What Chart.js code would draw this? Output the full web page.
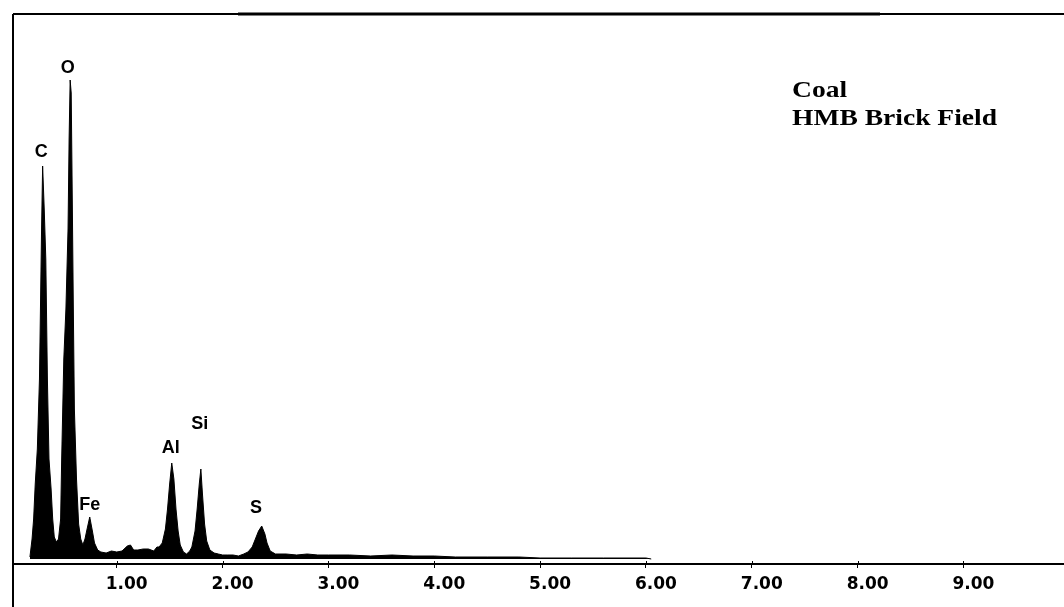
<!DOCTYPE html>
<html>
<head>
<meta charset="utf-8">
<script src="https://cdn.jsdelivr.net/npm/chart.js@4/dist/chart.umd.min.js"></script>
<style>
  html, body { margin: 0; padding: 0; background: #fff; }
  #wrap { width: 1064px; height: 607px; position: relative; }
</style>
</head>
<body>
<div id="wrap"><canvas id="spectrum"></canvas></div>
<script>
// energy (keV) and counts
const energies = [
  0.18, 0.20, 0.215, 0.23, 0.25, 0.27, 0.29, 0.30, 0.315, 0.33, 0.345, 0.36, 0.38, 0.395, 0.41,
  0.43, 0.45, 0.47, 0.48, 0.50, 0.52, 0.54, 0.55, 0.56, 0.57, 0.58, 0.59, 0.60, 0.62, 0.64, 0.66,
  0.68, 0.70, 0.72, 0.745, 0.77, 0.79, 0.82, 0.85, 0.90, 0.95, 1.00, 1.05, 1.10, 1.13, 1.16,
  1.20, 1.25, 1.30, 1.35, 1.38, 1.40, 1.43, 1.46, 1.48, 1.50, 1.52, 1.54, 1.56, 1.58, 1.60,
  1.63, 1.66, 1.69, 1.71, 1.74, 1.76, 1.78, 1.795, 1.81, 1.83, 1.85, 1.88, 1.92, 1.96, 2.00,
  2.05, 2.10, 2.15, 2.20, 2.24, 2.28, 2.31, 2.34, 2.37, 2.40, 2.42, 2.45, 2.50, 2.60, 2.70,
  2.80, 2.90, 3.00, 3.20, 3.40, 3.60, 3.80, 4.00, 4.20, 4.50, 4.80, 5.00, 5.30, 5.60, 6.00, 6.05
];
const counts = [
  2, 20, 40, 75, 110, 180, 330, 393, 350, 300, 180, 100, 70, 40, 22,
  17, 20, 40, 100, 200, 250, 330, 420, 479, 466, 360, 250, 150, 80, 35, 20,
  14, 20, 30, 42, 28, 16, 9, 7, 6, 8, 7, 8, 13, 14, 9,
  9, 10, 10, 8, 12, 12, 16, 30, 50, 75, 96, 80, 50, 28, 14,
  7, 5, 8, 12, 28, 50, 75, 90, 65, 35, 18, 9, 6, 5, 4,
  4, 4, 3, 5, 7, 12, 20, 28, 33, 25, 16, 8, 5, 5, 4,
  5, 4, 4, 4, 3, 4, 3, 3, 2, 2, 2, 1, 1, 1, 1, 0
];

const xTicks = [1, 2, 3, 4, 5, 6, 7, 8, 9];

// peak labels, anchored in data units (energy, count level)
const peakNames = ["C", "O", "Fe", "Al", "Si", "S"];
const peakEnergies = [0.286, 0.537, 0.745, 1.51, 1.785, 2.315];
const peakLabelLevels = [407, 491, 54, 111, 135, 51];

const sampleLines = ["Coal", "HMB Brick Field"];

const decor = {
  id: "decor",
  afterDraw(chart) {
    const { ctx, chartArea } = chart;
    const x = chart.scales.x;
    const y = chart.scales.y;
    ctx.save();
    ctx.fillStyle = "#000";
    ctx.strokeStyle = "#000";

    // frame: top edge and left edge (left runs past the axis to the bottom)
    ctx.lineWidth = 2;
    ctx.beginPath();
    ctx.moveTo(chartArea.left, chartArea.top);
    ctx.lineTo(chartArea.right, chartArea.top);
    ctx.moveTo(chartArea.left, chartArea.top);
    ctx.lineTo(chartArea.left, chart.height);
    ctx.stroke();
    ctx.lineWidth = 3;
    ctx.beginPath();
    ctx.moveTo(238, chartArea.top);
    ctx.lineTo(880, chartArea.top);
    ctx.stroke();

    // small tick stubs above the x axis
    ctx.lineWidth = 1;
    ctx.beginPath();
    xTicks.forEach(v => {
      const px = Math.round(x.getPixelForValue(v)) + 0.5;
      ctx.moveTo(px, chartArea.bottom - 3);
      ctx.lineTo(px, chartArea.bottom);
    });
    ctx.stroke();

    // element labels
    ctx.font = 'bold 18px "Liberation Sans"';
    ctx.textAlign = "center";
    ctx.textBaseline = "middle";
    peakNames.forEach((n, i) => {
      ctx.fillText(n, x.getPixelForValue(peakEnergies[i]), y.getPixelForValue(peakLabelLevels[i]));
    });

    // sample name
    ctx.font = 'bold 24px "Liberation Serif"';
    ctx.textAlign = "left";
    ctx.textBaseline = "alphabetic";
    const w = ctx.measureText(sampleLines[1]).width;
    const sx = 205 / w;
    sampleLines.forEach((t, i) => {
      ctx.save();
      ctx.translate(792, 97 + i * 28);
      ctx.scale(sx, 1);
      ctx.fillText(t, 0, 0);
      ctx.restore();
    });
    ctx.restore();
  }
};

new Chart(document.getElementById("spectrum"), {
  type: "line",
  data: {
    datasets: [{
      data: energies.map((e, i) => ({ x: e, y: counts[i] })),
      borderColor: "#000",
      backgroundColor: "#000",
      borderWidth: 1,
      fill: "origin",
      pointRadius: 0,
      tension: 0
    }]
  },
  options: {
    responsive: true,
    maintainAspectRatio: false,
    animation: false,
    layout: { padding: { left: 13, top: 14, right: 0, bottom: 0 } },
    plugins: { legend: { display: false }, tooltip: { enabled: false } },
    scales: {
      x: {
        type: "linear",
        min: 0.02,
        max: 9.95,
        afterFit(axis) { axis.height = 43; },
        afterBuildTicks(axis) { axis.ticks = xTicks.map(v => ({ value: v })); },
        border: { display: true, color: "#000", width: 2 },
        grid: { display: true, drawOnChartArea: false, color: "#000", tickLength: 4, lineWidth: 1 },
        ticks: {
          color: "#000",
          padding: 6,
          labelOffset: 10,
          maxRotation: 0,
          font: { family: "DejaVu Sans", size: 17, weight: "bold" },
          callback: v => Number(v).toFixed(2)
        }
      },
      y: {
        display: false,
        min: -5,
        max: 545
      }
    }
  },
  plugins: [decor]
});
</script>
</body>
</html>
